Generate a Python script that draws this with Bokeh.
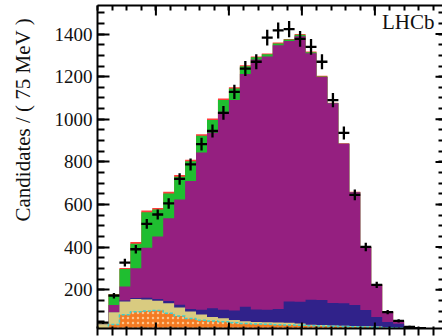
import numpy as np
from bokeh.plotting import figure
from bokeh.layouts import row
from bokeh.models import LinearAxis, SingleIntervalTicker, FixedTicker, Range1d, Label
from bokeh.core.properties import value
from bokeh.embed import file_html
from bokeh.resources import INLINE

# ---- binning (75 MeV bins) ----
bin_low = 5100
bin_width = 75
n_bins = 32

# ---- data points (candidates per bin) ----
data = [46, 172, 327, 390, 509, 553, 605, 720, 788, 883, 945, 1030, 1129, 1238,
        1270, 1383, 1417, 1423, 1377, 1340, 1270, 1090, 936, 645, 401, 223, 95,
        54, 26, 20]

# ---- fit components (stacked, bottom to top) ----
orange = [8, 35, 77, 91, 94, 96, 85, 72, 60, 53, 49, 46, 41, 38, 36, 35, 33, 31,
          30, 28, 27, 26, 25, 24, 23, 22, 20, 19, 17, 16, 15, 14]
cyan = [0, 2, 5, 6, 6, 6, 5, 5, 5, 4, 4, 4, 4, 4, 3, 3, 3, 3, 3, 3, 3, 2, 2, 2,
        2, 2, 1, 1, 1, 1, 1, 1]
beige = [30, 57, 63, 59, 54, 46, 46, 39, 33, 27, 19, 16, 13, 10, 9, 9, 10, 11, 9,
         5, 4, 4, 4, 4, 3, 3, 2, 2, 1, 1, 1, 1]
blue = [0, 2, 5, 5, 8, 8, 11, 14, 12, 22, 41, 40, 44, 68, 59, 59, 64, 100, 102,
        117, 118, 106, 105, 98, 77, 45, 26, 18, 6, 2, 1, 0]
purple = [0, 32, 65, 140, 235, 294, 389, 493, 600, 738, 824, 929, 989, 1092,
          1173, 1189, 1238, 1222, 1246, 1157, 1047, 937, 749, 530, 294, 152, 47,
          10, 0, 0, 0, 0]
green = [2, 49, 82, 115, 167, 126, 116, 107, 93, 79, 60, 56, 53, 37, 11, 10, 8,
         7, 7, 5, 2, 1, 0, 0, 1, 1, 1, 1, 0, 0, 0, 0]
red = [0, 3, 5, 8, 8, 8, 8, 8, 7, 7, 7, 7, 6, 5, 4, 4, 4, 3, 3, 3, 3, 2, 2, 2,
       2, 1, 1, 1, 0, 0, 0, 0]

y_title = "Candidates / ( 75 MeV )"

# ---- ticks ----
y_major = [200, 400, 600, 800, 1000, 1200, 1400]
x_major = [5500, 6000, 6500, 7000]
y_minor_step = 50
x_minor_step = 100

X0, X1 = 5100, 7463
Y0, Y1 = 18, 1534
FRAME_W, FRAME_H = 345.0, 323.0
px_x = (X1 - X0) / FRAME_W
px_y = (Y1 - Y0) / FRAME_H
serif = "Liberation Serif"

edges = bin_low + bin_width * np.arange(n_bins + 1)
components = [orange, cyan, beige, blue, purple, green, red]
cum = np.cumsum(np.array(components, dtype=float), axis=0)

# ---- narrow strip holding the ROOT-style (top-aligned) y title ----
LW = 50
pt = figure(width=LW, height=336, x_range=Range1d(0, LW), y_range=Range1d(0, 336),
            output_backend="svg", toolbar_location=None, min_border=0)
pt.axis.visible = False
pt.grid.visible = False
pt.outline_line_color = None
pt.text(x=[22], y=[336 - 13], text=[y_title], angle=np.pi / 2,
        text_align="right", text_baseline="middle", text_font=value(serif),
        text_font_size="21px", text_color="#111111")

# ---- main plot ----
p = figure(width=442 - LW, height=336, x_range=Range1d(X0, X1),
           y_range=Range1d(Y0, Y1), output_backend="svg",
           toolbar_location=None, min_border_left=97 - LW, min_border_right=0,
           min_border_top=5, min_border_bottom=8)
p.outline_line_color = None
p.xgrid.visible = False
p.ygrid.visible = False
p.background_fill_color = "white"
p.border_fill_color = "white"


def step_y(v):
    return np.append(v, v[-1])


fills = [
    (6, "#FF3B3B"),   # red (total)
    (5, "#1FBE30"),   # green
    (4, "#951F80"),   # purple
    (3, "#30228A"),   # dark blue
    (2, "#D9CB80"),   # beige
]
for idx, col in fills:
    p.varea_step(x=edges, y1=0, y2=step_y(cum[idx]), step_mode="after",
                 fill_color=col)

# orange (hatched) including cyan component
p.varea_step(x=edges, y1=0, y2=step_y(cum[1]), step_mode="after",
             fill_color="#F47A22", hatch_pattern="dot", hatch_color="#FBC58E",
             hatch_scale=5, hatch_weight=1.6)
p.step(x=edges, y=step_y(cum[1]), mode="after", line_color="#3CCFD0",
       line_width=1.5, line_dash="3 2")

# data points with error bars
d = np.array(data, dtype=float)
nd = len(d)
lefts = edges[:nd]
rights = edges[1:nd + 1]
centers = 0.5 * (lefts + rights)
err = np.sqrt(d)
p.segment(x0=lefts, x1=rights, y0=d, y1=d, line_color="black", line_width=2.3)
p.segment(x0=centers, x1=centers, y0=d - err, y1=d + err, line_color="black",
          line_width=2.3)

# ---- axes ----
x_minor = list(range(X0, 7500 + 1, x_minor_step))
y_minor = list(range(50, 1500 + 1, y_minor_step))

xb = p.xaxis[0]
xb.ticker = FixedTicker(ticks=[], minor_ticks=x_minor)
xb.major_label_standoff = 0
xb.minor_tick_in = 2
xb.minor_tick_out = 7
xb.axis_line_width = 2
xb.minor_tick_line_width = 2

yl = p.yaxis[0]
yl.ticker = SingleIntervalTicker(interval=200, num_minor_ticks=4)
yl.major_tick_in = 12
yl.major_tick_out = 0
yl.minor_tick_in = 7
yl.minor_tick_out = 0
yl.axis_line_width = 2
yl.major_tick_line_width = 2
yl.minor_tick_line_width = 2
yl.major_label_text_font = serif
yl.major_label_text_font_size = "19px"
yl.major_label_text_color = "#111111"
yl.major_label_standoff = 5

xt = LinearAxis(ticker=FixedTicker(ticks=[], minor_ticks=x_minor),
                major_label_standoff=0, minor_tick_in=5, minor_tick_out=0,
                axis_line_width=2, minor_tick_line_width=2)
p.add_layout(xt, "above")

yr = LinearAxis(ticker=FixedTicker(ticks=[], minor_ticks=y_minor),
                major_label_standoff=0, minor_tick_in=4, minor_tick_out=0,
                axis_line_color=None, minor_tick_line_width=2)
p.add_layout(yr, "right")

xm = np.array(x_major, dtype=float)
ym = np.array(y_major, dtype=float)
p.segment(x0=xm, x1=xm, y0=Y1, y1=Y1 - 10 * px_y, line_color="black", line_width=2)
p.segment(x0=xm, x1=xm, y0=Y0, y1=Y0 + 6 * px_y, line_color="black", line_width=2)
p.segment(x0=X1, x1=X1 - 7 * px_x, y0=ym, y1=ym, line_color="black", line_width=2)

p.add_layout(Label(x=7408, y=1458, text="LHCb", text_align="right",
                   text_baseline="alphabetic", text_font=serif,
                   text_font_size="21px", text_color="#111111"))

layout = row(pt, p, spacing=0)
open("out.html", "w").write(file_html(layout, INLINE))
